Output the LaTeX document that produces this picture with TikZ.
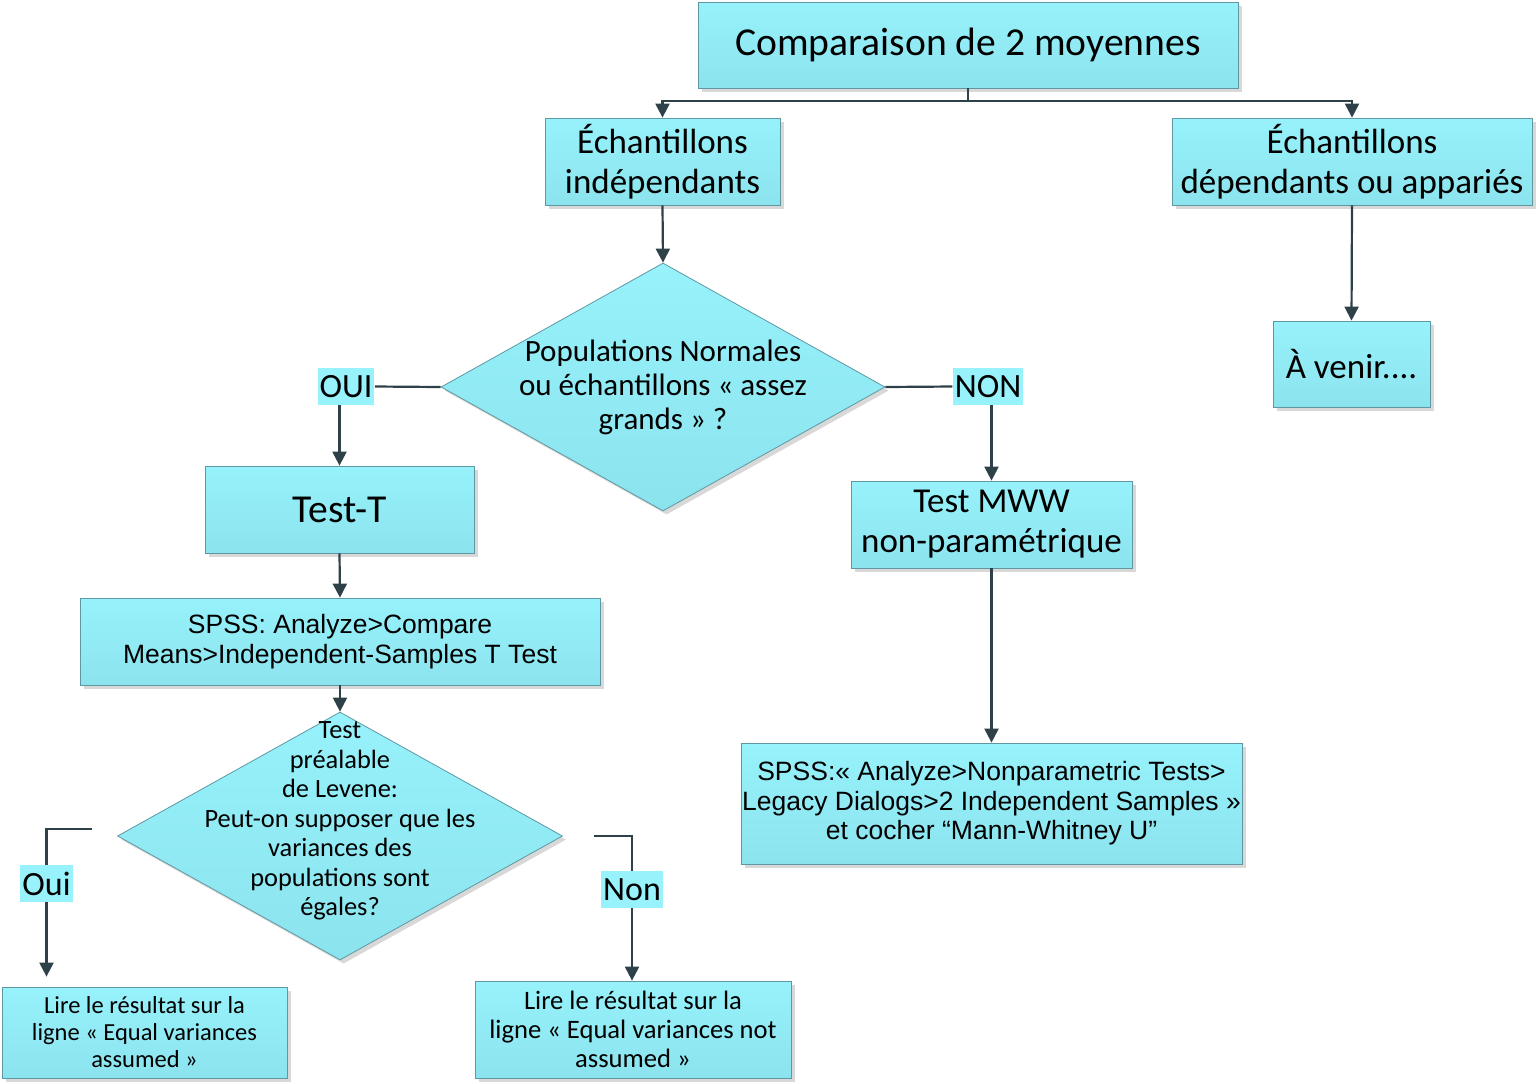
\documentclass[tikz,border=0pt]{standalone}
\usepackage{fontspec}
\setmainfont{Carlito}
\newfontfamily\arialfont{Liberation Sans}
\usetikzlibrary{positioning, arrows.meta, shapes.geometric, shadows}

\definecolor{cyantop}{HTML}{97F2FC}
\definecolor{cyanbot}{HTML}{8BE3ED}
\definecolor{boxline}{HTML}{5F98A2}
\definecolor{wire}{HTML}{2E4148}

\begin{document}
\begin{tikzpicture}[
  x=0.5pt, y=-0.5pt,
  box/.style={draw=boxline, line width=0.4pt, top color=cyantop, bottom color=cyanbot,
              align=center, inner sep=0pt,
              drop shadow={shadow xshift=1.8pt, shadow yshift=-1.8pt, fill=black!30, opacity=0.5}},
  decision/.style={diamond, draw=boxline, line width=0.4pt, top color=cyantop, bottom color=cyanbot,
              inner sep=0pt,
              drop shadow={shadow xshift=1.8pt, shadow yshift=-1.8pt, fill=black!30, opacity=0.5}},
  dtext/.style={align=center, inner sep=0pt},
  lbl/.style={fill=cyantop, inner sep=1pt, minimum height=18.5pt,
              font=\fontsize{17}{20}\selectfont},
  wline/.style={draw=wire, line width=1.1pt},
  arr/.style={wline, -{Triangle[width=7pt, length=7pt]}},
]
  \useasboundingbox (0,0) rectangle (1536,1083);

  % Top
  \node[box, minimum width=270pt, minimum height=43pt,
        font=\fontsize{19.8}{24}\selectfont] (title) at (968,45) {Comparaison de 2 moyennes};
  \node[box, minimum width=117.5pt, minimum height=43.5pt,
        font=\fontsize{17.5}{20}\selectfont] (indep) at (662.5,161.5) {Échantillons\\indépendants};
  \node[box, minimum width=180pt, minimum height=43.5pt,
        font=\fontsize{17.5}{20}\selectfont] (dep) at (1352,161.5) {Échantillons\\dépendants ou appariés};
  \node[box, minimum width=78.5pt, minimum height=43pt,
        font=\fontsize{17.5}{20}\selectfont] (avenir) at (1351.5,364) {À venir....};

  \coordinate (split) at (968,101);
  \draw[wline] (title.south) -- (split);
  \draw[arr] (split) -| (indep.north);
  \draw[arr] (split) -| (dep.north);
  \draw[arr] (dep.south) -- (avenir.north);

  % Normality decision
  \node[decision, minimum width=222pt, minimum height=124pt] (norm) at (663,387) {};
  \node[dtext, font=\fontsize{15.5}{17}\selectfont] (normtxt) at (663,387)
    {Populations Normales\\ou échantillons « assez\\grands » ?};
  \draw[arr] (indep.south) -- (norm.north);

  \node[lbl] (oui) at (346,386.5) {OUI};
  \node[lbl] (non) at (988,386.5) {NON};
  \draw[wline] (norm.west) -- (oui.east);
  \draw[wline] (norm.east) -- (non.west);

  % Parametric branch
  \node[box, minimum width=134.5pt, minimum height=43.5pt,
        font=\fontsize{19.8}{24}\selectfont] (testt) at (339.5,509.5) {Test-T};
  \node[box, minimum width=260pt, minimum height=43.5pt,
        font=\arialfont\fontsize{13.25}{15}\selectfont] (spssa) at (340,641.5)
    {SPSS: Analyze>Compare\\Means>Independent-Samples T Test};
  \draw[arr] (oui.south -| testt.north) -- (testt.north);
  \draw[arr] (testt.south) -- (spssa.north);

  % Levene decision
  \node[decision, minimum width=222.5pt, minimum height=124pt] (levene) at (340,836) {};
  \node[dtext, font=\fontsize{13.2}{14.75}\selectfont] (levtxt) at (340,821)
    {Test\\préalable\\de Levene:\\Peut-on supposer que les\\variances des\\populations sont\\égales?};
  \draw[arr] (spssa.south) -- (levene.north);

  \node[lbl] (oui2) at (46.5,883.5) {Oui};
  \node[lbl] (non2) at (632,889.5) {Non};
  \node[box, minimum width=142.5pt, minimum height=45.5pt,
        font=\fontsize{12.25}{13.5}\selectfont] (lirea) at (144.5,1032.5)
    {Lire le résultat sur la\\ligne « Equal variances\\assumed »};
  \node[box, minimum width=158pt, minimum height=48.5pt,
        font=\fontsize{13.3}{14.5}\selectfont] (lireb) at (633,1029.5)
    {Lire le résultat sur la\\ligne « Equal variances not\\assumed »};

  \coordinate (ouistart) at (92,829);
  \coordinate (nonstart) at (594,836);
  \draw[wline] (ouistart) -| (oui2.north);
  \draw[arr, shorten >=5pt] (oui2.south) -- (oui2.south |- lirea.north);
  \draw[wline] (nonstart) -| (non2.north);
  \draw[arr] (non2.south) -- (non2.south |- lireb.north);

  % Non-parametric branch
  \node[box, minimum width=140.5pt, minimum height=43.5pt,
        font=\fontsize{17.5}{20}\selectfont] (mww) at (991.5,524.5) {Test MWW\\non-paramétrique};
  \node[box, minimum width=250.5pt, minimum height=60.5pt,
        font=\arialfont\fontsize{13.25}{14.75}\selectfont] (spssb) at (991.5,803.5)
    {SPSS:« Analyze>Nonparametric Tests>\\Legacy Dialogs>2 Independent Samples »\\et cocher “Mann-Whitney U”};
  \draw[arr] (non.south -| mww.north) -- (mww.north);
  \draw[arr] (mww.south) -- (spssb.north);

\end{tikzpicture}
\end{document}
